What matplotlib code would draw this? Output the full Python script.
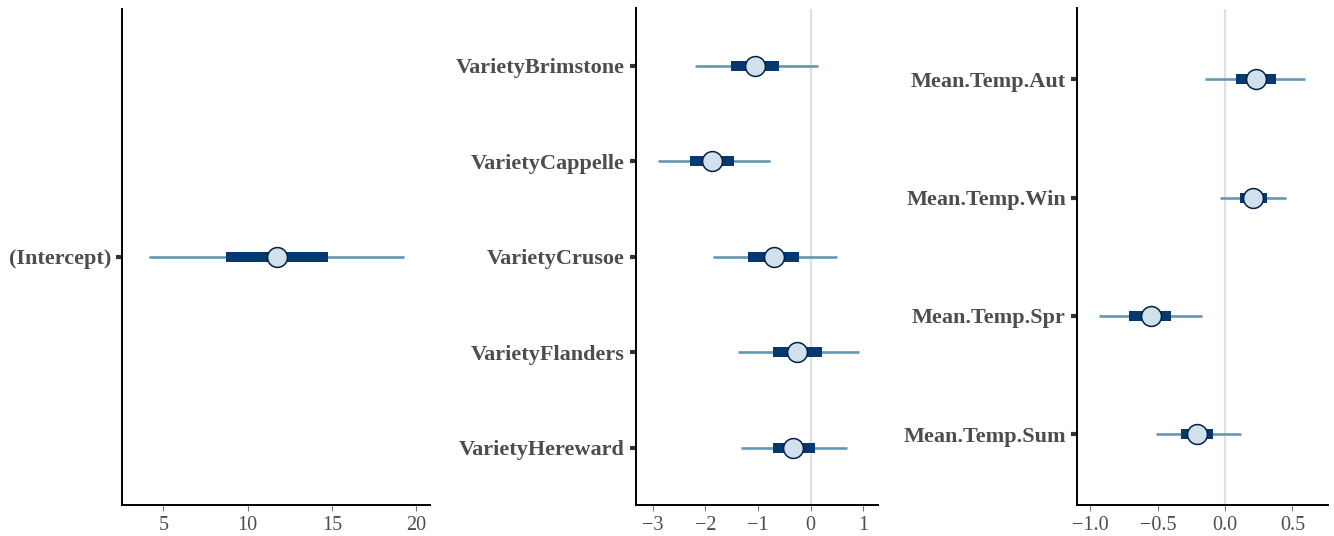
import matplotlib
matplotlib.use("Agg")
import matplotlib.pyplot as plt
import numpy as np

plt.rcParams['font.family'] = ['Liberation Serif', 'DejaVu Serif']

# posterior summaries: outer (90%), inner (50%), median
p1_names = ["(Intercept)"]
p1_ll = [4.14]; p1_l = [8.70]; p1_m = [11.72]; p1_h = [14.79]; p1_hh = [19.29]

p2_names = ["VarietyBrimstone", "VarietyCappelle", "VarietyCrusoe", "VarietyFlanders", "VarietyHereward"]
p2_ll = [-2.19, -2.91, -1.86, -1.39, -1.32]
p2_l = [-1.51, -2.29, -1.20, -0.72, -0.71]
p2_m = [-1.05, -1.87, -0.70, -0.26, -0.33]
p2_h = [-0.60, -1.45, -0.22, 0.21, 0.08]
p2_hh = [0.14, -0.78, 0.51, 0.91, 0.70]

p3_names = ["Mean.Temp.Aut", "Mean.Temp.Win", "Mean.Temp.Spr", "Mean.Temp.Sum"]
p3_ll = [-0.147, -0.04, -0.94, -0.51]
p3_l = [0.082, 0.11, -0.71, -0.33]
p3_m = [0.23, 0.21, -0.55, -0.21]
p3_h = [0.38, 0.31, -0.40, -0.09]
p3_hh = [0.597, 0.45, -0.17, 0.12]

OUTER = "#6497b1"
INNER = "#03396c"
PT_FILL = "#d1e1ec"
PT_EDGE = "#011f4b"

W, H = 1334, 536
fig = plt.figure(figsize=(W / 100, H / 100), dpi=100)


def panel(rect, names, ll, l, m, h, hh, xlim, xticks, xticklabels, vline):
    ax = fig.add_axes(rect)
    n = len(names)
    y = np.arange(1, n + 1)
    if vline:
        ax.axvline(0, color="#e0e0e0", lw=1.6, zorder=1)
    ax.hlines(y, ll, hh, color=OUTER, lw=1.9, zorder=2)
    ax.hlines(y, l, h, color=INNER, lw=7.2, zorder=3, capstyle="butt")
    ax.plot(m, y, "o", ms=14.3, mfc=PT_FILL, mec=PT_EDGE, mew=1.1, zorder=4)
    ax.set_ylim(n + 0.6, 0.4)
    ax.set_xlim(*xlim)
    ax.set_yticks(y)
    ax.set_yticklabels(names, fontsize=16, fontweight="bold", color="#4d4d4d")
    ax.set_xticks(xticks)
    ax.set_xticklabels(xticklabels, fontsize=14.5, color="#4d4d4d")
    for s in ["top", "right"]:
        ax.spines[s].set_visible(False)
    for s in ["left", "bottom"]:
        ax.spines[s].set_linewidth(1.4)
        ax.spines[s].set_color("black")
    ax.tick_params(axis="y", length=4, width=3, color="#333333", pad=4)
    ax.tick_params(axis="x", length=4.5, width=0.8, color="#777777", pad=3.5)
    return ax


bottom = 31 / H
height = (505 - 8.5) / H

panel([122 / W, bottom, 308 / W, height], p1_names, p1_ll, p1_l, p1_m, p1_h, p1_hh,
      (2.54, 20.83), [5, 10, 15, 20], ["5", "10", "15", "20"], False)
panel([636 / W, bottom, 242 / W, height], p2_names, p2_ll, p2_l, p2_m, p2_h, p2_hh,
      (-3.32, 1.28), [-3, -2, -1, 0, 1], ["\u22123", "\u22122", "\u22121", "0", "1"], True)
panel([1077 / W, bottom, 251 / W, height], p3_names, p3_ll, p3_l, p3_m, p3_h, p3_hh,
      (-1.10, 0.765), [-1.0, -0.5, 0.0, 0.5], ["\u22121.0", "\u22120.5", "0.0", "0.5"], True)

fig.savefig("out.png", dpi=100)
